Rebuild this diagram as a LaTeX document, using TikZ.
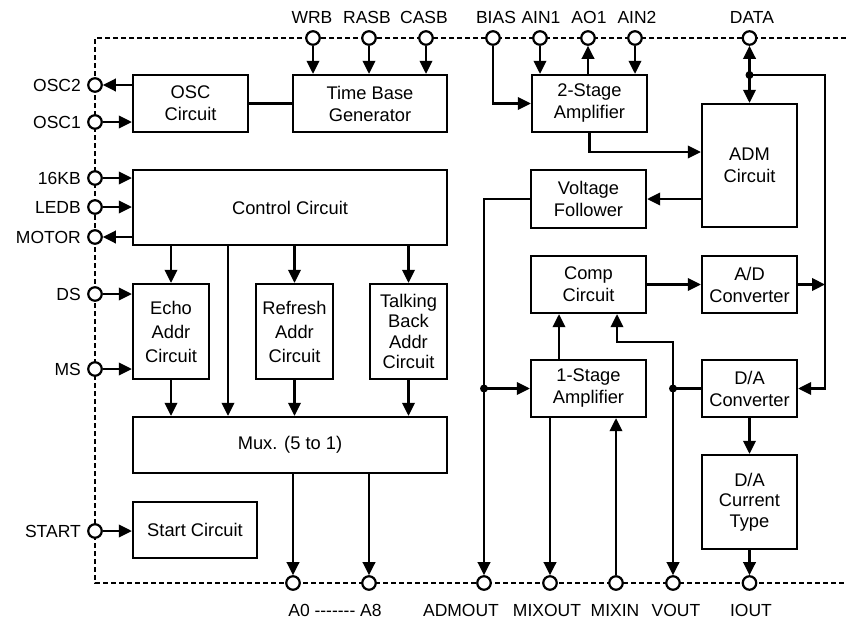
\documentclass[tikz,border=0pt]{standalone}
\usepackage{fontspec}
\setmainfont{Liberation Sans}
\usetikzlibrary{arrows.meta}
\begin{document}
\begin{tikzpicture}[x=1pt,y=-1pt,
  blk/.style={draw, line width=2.3pt, align=center, inner sep=0pt, font=\fontsize{18.3}{22}\selectfont},
  pinc/.style={circle, draw, fill=white, line width=2.2pt, minimum size=13.5pt, inner sep=0pt},
  lbl/.style={font=\fontsize{17.5}{20}\selectfont, inner sep=0pt},
  wire/.style={line width=2.2pt},
  arr/.style={wire, -{Triangle[length=13pt,width=12.5pt]}},
  darr/.style={wire, {Triangle[length=13pt,width=12.5pt]}-{Triangle[length=13pt,width=12.5pt]}},
  jdot/.style={circle, fill, inner sep=0pt, minimum size=8pt},
  border/.style={line width=1.9pt, dash pattern=on 5pt off 3pt}
]
\useasboundingbox (0,0) rectangle (846,624);

% dashed chip border
\coordinate (b1) at (846,38);
\coordinate (b2) at (95,38);
\coordinate (b3) at (95,583);
\coordinate (b4) at (846,583);
\draw[border] (b1) -- (b2) -- (b3) -- (b4);

% blocks
\node[blk, minimum width=115pt, minimum height=57pt] (osc) at (190.5,103.5) {OSC\\Circuit};
\node[blk, minimum width=154pt, minimum height=57pt] (tbg) at (370,103.5) {Time Base\\Generator};
\node[blk, minimum width=115pt, minimum height=57pt] (amp2) at (589.5,103.5) {2-Stage\\Amplifier};
\node[blk, minimum width=95pt, minimum height=123pt] (adm) at (749.5,165.5) {ADM\\Circuit};
\node[blk, minimum width=115pt, minimum height=58pt] (vf) at (588.5,199) {Voltage\\Follower};
\node[blk, minimum width=115pt, minimum height=57pt] (comp) at (588.5,284.5) {Comp\\Circuit};
\node[blk, minimum width=95pt, minimum height=57pt] (ad) at (749.5,284.5) {A/D\\Converter};
\node[blk, minimum width=115pt, minimum height=57pt] (amp1) at (588.5,388.5) {1-Stage\\Amplifier};
\node[blk, minimum width=95pt, minimum height=57pt] (da) at (749.5,388.5) {D/A\\Converter};
\node[blk, minimum width=95pt, minimum height=94pt, font=\fontsize{18.3}{20.5}\selectfont] (dact) at (749.5,502) {D/A\\Current\\Type};
\node[blk, minimum width=314pt, minimum height=75pt] (ctrl) at (290,207.5) {Control Circuit};
\node[blk, minimum width=76pt, minimum height=95pt, font=\fontsize{18.3}{24}\selectfont] (echo) at (171,331.5) {Echo\\Addr\\Circuit};
\node[blk, minimum width=77pt, minimum height=95pt, font=\fontsize{18.3}{24}\selectfont] (refr) at (294.5,331.5) {Refresh\\Addr\\Circuit};
\node[blk, minimum width=77pt, minimum height=95pt, font=\fontsize{18.3}{20.5}\selectfont] (talk) at (408.5,331.5) {Talking\\Back\\Addr\\Circuit};
\node[blk, minimum width=314pt, minimum height=56pt] (mux) at (290,445) {Mux. (5 to 1)};
\node[blk, minimum width=124pt, minimum height=56pt] (stc) at (195,530) {Start Circuit};

% top pins
\node[pinc] (wrb) at (313,38) {};
\node[pinc] (rasb) at (369,38) {};
\node[pinc] (casb) at (426,38) {};
\node[pinc] (bias) at (493,38) {};
\node[pinc] (ain1) at (540,38) {};
\node[pinc] (ao1) at (588,38) {};
\node[pinc] (ain2) at (635,38) {};
\node[pinc] (data) at (749.5,38) {};
% left pins
\node[pinc] (osc2) at (95,85) {};
\node[pinc] (osc1) at (95,122) {};
\node[pinc] (kb) at (95,178) {};
\node[pinc] (ledb) at (95,207) {};
\node[pinc] (motor) at (95,237) {};
\node[pinc] (ds) at (95,294) {};
\node[pinc] (ms) at (95,369) {};
\node[pinc] (start) at (95,531) {};
% bottom pins
\node[pinc] (a0) at (293,583) {};
\node[pinc] (a8) at (369,583) {};
\node[pinc] (admout) at (484,583) {};
\node[pinc] (mixout) at (550,583) {};
\node[pinc] (mixin) at (616,583) {};
\node[pinc] (vout) at (673,583) {};
\node[pinc] (iout) at (749.5,583) {};

% pin labels
\node[lbl, anchor=base] (lwrb) at (312,23) {WRB};
\node[lbl, anchor=base] (lrasb) at (367,23) {RASB};
\node[lbl, anchor=base] (lcasb) at (424,23) {CASB};
\node[lbl, anchor=base] (lbias) at (496,23) {BIAS};
\node[lbl, anchor=base] (lain1) at (541,23) {AIN1};
\node[lbl, anchor=base] (lao1) at (589,23) {AO1};
\node[lbl, anchor=base] (lain2) at (637,23) {AIN2};
\node[lbl, anchor=base] (ldata) at (752,23) {DATA};
\node[lbl, anchor=base east] (losc2) at (81,91.5) {OSC2};
\node[lbl, anchor=base east] (losc1) at (81,128.5) {OSC1};
\node[lbl, anchor=base east] (lkb) at (81,184.5) {16KB};
\node[lbl, anchor=base east] (lledb) at (81,213.5) {LEDB};
\node[lbl, anchor=base east] (lmotor) at (81,243.5) {MOTOR};
\node[lbl, anchor=base east] (lds) at (81,300.5) {DS};
\node[lbl, anchor=base east] (lms) at (81,375.5) {MS};
\node[lbl, anchor=base east] (lstart) at (81,537.5) {START};
\node[lbl, anchor=base] (la) at (335,616) {A0 -{}-{}-{}-{}-{}-{}- A8};
\node[lbl, anchor=base] (ladmout) at (461,616) {ADMOUT};
\node[lbl, anchor=base] (lmixout) at (547,616) {MIXOUT};
\node[lbl, anchor=base] (lmixin) at (615,616) {MIXIN};
\node[lbl, anchor=base] (lvout) at (676,616) {VOUT};
\node[lbl, anchor=base] (liout) at (751,616) {IOUT};

% helper coordinates
\coordinate (cmx) at (228,0);
\coordinate (k1) at (589,152);
\coordinate (bus1) at (825,75);
\coordinate (c1) at (559,0);
\coordinate (c2) at (617,342);

% junction dots
\node[jdot] (dd) at (749.5,75) {};
\node[jdot] (d2) at (484,388.5) {};
\node[jdot] (d3) at (673,388.5) {};

% top connections
\draw[arr] (wrb.south) -- (wrb |- tbg.north);
\draw[arr] (rasb.south) -- (rasb |- tbg.north);
\draw[arr] (casb.south) -- (casb |- tbg.north);
\draw[wire] (osc.east) -- (tbg.west);
\draw[arr] (bias.south) |- (amp2.west);
\draw[arr] (ain1.south) -- (ain1 |- amp2.north);
\draw[arr] (ao1 |- amp2.north) -- (ao1.south);
\draw[arr] (ain2.south) -- (ain2 |- amp2.north);
\draw[arr] (amp2.south) -- (amp2.south |- k1) -- (adm.west |- k1);
\draw[darr] (data.south) -- (adm.north);
\draw[arr] (dd.center) -- (bus1) |- (da.east);
\draw[arr] (ad.east) -- (ad.east -| bus1);
\draw[arr] (adm.west |- vf.east) -- (vf.east);
\draw[arr] (vf.west) -| (admout.north);
\draw[arr] (d2.center) -- (amp1.west);
\draw[arr] (amp1.north -| c1) -- (comp.south -| c1);
\draw[arr] (comp.east) -- (ad.west);
\draw[wire] (da.west) -- (d3.center);
\draw[arr] (d3.center) -- (vout.north);
\draw[arr] (d3.center) |- (c2) -- (comp.south -| c2);
\draw[arr] (amp1.south -| mixout) -- (mixout.north);
\draw[arr] (mixin.north) -- (amp1.south -| mixin);
\draw[arr] (da.south) -- (dact.north);
\draw[arr] (dact.south) -- (iout.north);

% left connections
\draw[arr] (osc.west |- osc2) -- (osc2.east);
\draw[arr] (osc1.east) -- (osc.west |- osc1);
\draw[arr] (kb.east) -- (ctrl.west |- kb);
\draw[arr] (ledb.east) -- (ctrl.west |- ledb);
\draw[arr] (ctrl.west |- motor) -- (motor.east);
\draw[arr] (ds.east) -- (echo.west |- ds);
\draw[arr] (ms.east) -- (echo.west |- ms);
\draw[arr] (start.east) -- (stc.west |- start);

% control / address / mux
\draw[arr] (echo.north |- ctrl.south) -- (echo.north);
\draw[arr] (ctrl.south -| cmx) -- (mux.north -| cmx);
\draw[arr] (refr.north |- ctrl.south) -- (refr.north);
\draw[arr] (talk.north |- ctrl.south) -- (talk.north);
\draw[arr] (echo.south) -- (echo.south |- mux.north);
\draw[arr] (refr.south) -- (refr.south |- mux.north);
\draw[arr] (talk.south) -- (talk.south |- mux.north);
\draw[arr] (mux.south -| a0) -- (a0.north);
\draw[arr] (mux.south -| a8) -- (a8.north);
\end{tikzpicture}
\end{document}
